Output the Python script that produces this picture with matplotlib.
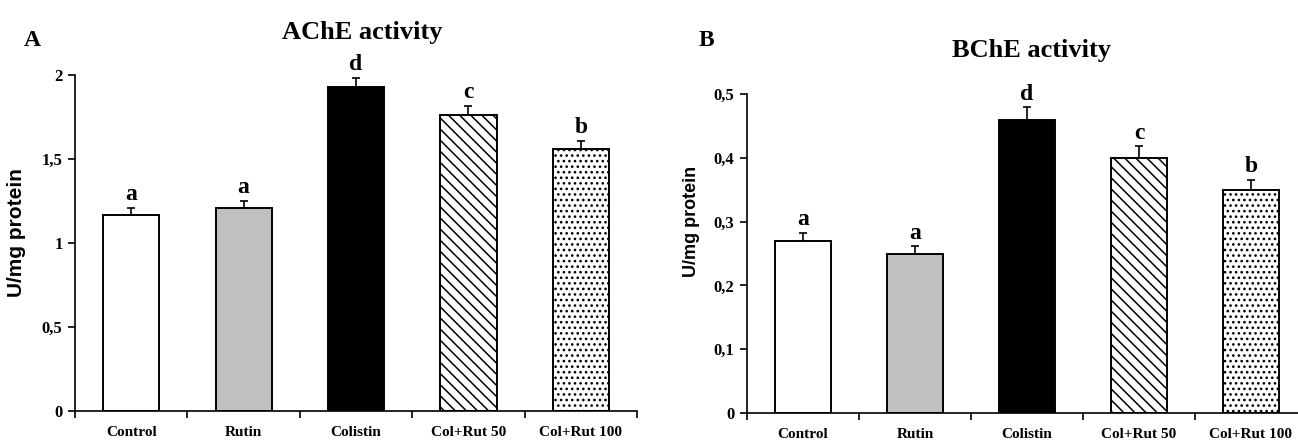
import numpy as np
import matplotlib
matplotlib.use('Agg')
import matplotlib.pyplot as plt
from matplotlib.ticker import FuncFormatter

# data
groups = ['Control', 'Rutin', 'Colistin', 'Col+Rut 50', 'Col+Rut 100']
ache_mean = [1.17, 1.21, 1.93, 1.76, 1.56]
ache_err = [0.04, 0.04, 0.055, 0.055, 0.048]
bche_mean = [0.27, 0.25, 0.46, 0.40, 0.35]
bche_err = [0.012, 0.011, 0.019, 0.018, 0.016]
letters_ache = ['a', 'a', 'd', 'c', 'b']
letters_bche = ['a', 'a', 'd', 'c', 'b']

faces = ['white', '#c0c0c0', 'black', 'white', 'white']
hatches = [None, None, None, '\\\\\\', '...']

plt.rcParams['hatch.linewidth'] = 1.1
serif = 'Liberation Serif'


def comma_fmt(v, pos):
    s = f'{v:g}'
    return s.replace('.', ',')


def draw_panel(ax, means, errs, letters, ymax, step, ylab_size):
    x = np.arange(len(groups))
    bars = ax.bar(x, means, width=0.5, color=faces, edgecolor='black', linewidth=1.4, zorder=2)
    for b, h in zip(bars, hatches):
        if h:
            b.set_hatch(h)
    ax.errorbar(x, means, yerr=[np.zeros(len(errs)), errs], fmt='none',
                ecolor='black', elinewidth=1.2, capsize=3, capthick=1.2, zorder=1)
    for xi, m, e, l in zip(x, means, errs, letters):
        ax.annotate(l, (xi, m + e), xytext=(0, 2), textcoords='offset points',
                    ha='center', va='bottom', fontsize=17, fontweight='bold', family=serif)

    ax.set_xlim(-0.5, len(groups) - 0.5)
    ax.set_ylim(0, ymax)
    ax.set_yticks(np.arange(0, ymax + step / 2, step))
    ax.yaxis.set_major_formatter(FuncFormatter(comma_fmt))
    ax.set_xticks(x)
    ax.set_xticklabels(groups, fontsize=11, fontweight='bold', family=serif)
    ax.set_xticks(np.arange(-0.5, len(groups)), minor=True)
    ax.tick_params(axis='x', which='major', length=0, pad=11)
    ax.tick_params(axis='x', which='minor', length=5, width=1.2, direction='out')
    ax.tick_params(axis='y', length=5, width=1.2, direction='out', pad=4)
    for lab in ax.get_yticklabels():
        lab.set_fontsize(12)
        lab.set_fontweight('bold')
        lab.set_family(serif)
    ax.spines['top'].set_visible(False)
    ax.spines['right'].set_visible(False)
    ax.spines['left'].set_linewidth(1.2)
    ax.spines['bottom'].set_linewidth(1.2)
    ax.set_ylabel('U/mg protein', fontsize=ylab_size, fontweight='bold', family='Liberation Sans')


fig = plt.figure(figsize=(12.98, 4.42), dpi=100)
ax1 = fig.add_axes([0.0578, 0.0701, 0.433, 0.760])
ax2 = fig.add_axes([0.5755, 0.0656, 0.4314, 0.7217])

draw_panel(ax1, ache_mean, ache_err, letters_ache, 2, 0.5, 15)
draw_panel(ax2, bche_mean, bche_err, letters_bche, 0.5, 0.1, 13)

ax1.yaxis.set_label_coords(-0.087, 0.53)
ax2.yaxis.set_label_coords(-0.084, 0.60)

fig.text(362 / 1298, 1 - 32 / 442, 'AChE activity', ha='center', va='center',
         fontsize=19, fontweight='bold', family=serif)
fig.text(1031 / 1298, 1 - 50 / 442, 'BChE activity', ha='center', va='center',
         fontsize=19, fontweight='bold', family=serif)
fig.text(32 / 1298, 1 - 40 / 442, 'A', ha='center', va='center',
         fontsize=17, fontweight='bold', family=serif)
fig.text(706 / 1298, 1 - 40 / 442, 'B', ha='center', va='center',
         fontsize=17, fontweight='bold', family=serif)

fig.savefig('out.png', dpi=100)
